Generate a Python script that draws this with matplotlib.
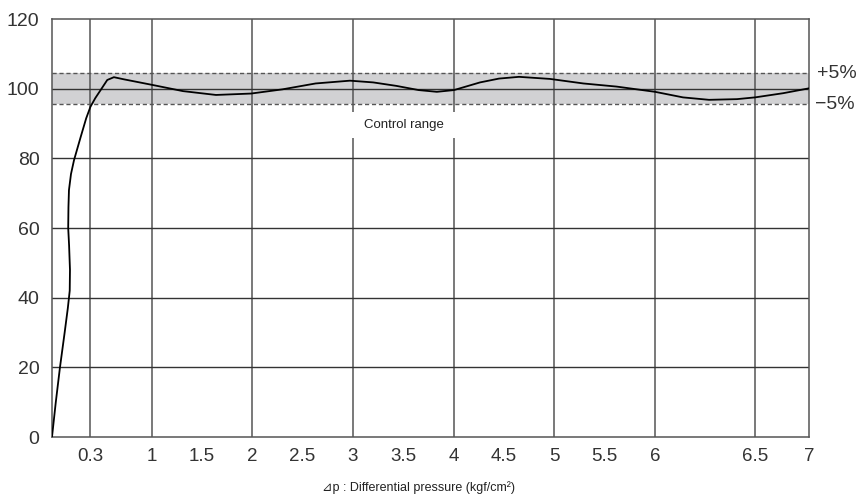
import numpy as np
import matplotlib
matplotlib.use("Agg")
import matplotlib.pyplot as plt

# x axis is not linear: tick value -> position along the axis
scale_vals = [0, 0.3, 1, 2, 3, 4, 5, 6, 6.5, 7]
scale_pos = [0, 38, 100, 200, 301, 402, 502, 603, 703, 757]

tick_vals = [0.3, 1, 1.5, 2, 2.5, 3, 3.5, 4, 4.5, 5, 5.5, 6, 6.5, 7]
tick_labels = ["0.3", "1", "1.5", "2", "2.5", "3", "3.5", "4", "4.5", "5", "5.5", "6", "6.5", "7"]
vgrid_vals = [0.3, 1, 2, 3, 4, 5, 6, 6.5]
hgrid_vals = [20, 40, 60, 80, 100]
y_ticks = [0, 20, 40, 60, 80, 100, 120]

# flow curve
dp = [0, 0.03, 0.063, 0.1, 0.125, 0.14, 0.142, 0.135, 0.128, 0.13, 0.134, 0.15,
      0.174, 0.227, 0.27, 0.305, 0.36, 0.42, 0.495, 0.57, 0.68, 0.8, 1.0, 1.31,
      1.64, 1.99, 2.3, 2.63, 2.97, 3.2, 3.43, 3.65, 3.83, 4.0, 4.26, 4.45, 4.65,
      4.96, 5.29, 5.62, 6.0, 6.14, 6.27, 6.41, 6.5, 6.76, 7.0]
flow = [0, 10, 20, 30, 37, 42, 48, 55, 60, 66, 70.9, 75.5,
        79.5, 86.2, 91.5, 94.8, 97.3, 99.6, 102.5, 103.3, 102.7, 102.1, 101.1, 99.3,
        98.2, 98.6, 99.8, 101.5, 102.3, 101.8, 100.8, 99.6, 99.1, 99.6, 101.8, 102.9, 103.4,
        102.8, 101.5, 100.6, 99.1, 97.5, 96.8, 97.0, 97.5, 98.7, 100.1]

band_lo, band_hi = 95.5, 104.5


def fwd(x):
    return np.interp(x, scale_vals, scale_pos)


def inv(p):
    return np.interp(p, scale_pos, scale_vals)


plt.rcParams['font.family'] = ['Liberation Sans', 'DejaVu Sans']

fig = plt.figure(figsize=(8.65, 4.99), dpi=100)
ax = fig.add_axes([0.0601, 0.1242, 0.8752, 0.8377])
ax.set_xscale('function', functions=(fwd, inv))
ax.set_xlim(0, 7)
ax.set_ylim(0, 120)

# control band
ax.axhspan(band_lo, band_hi, color='#d1d1d3', lw=0, zorder=0.5)
for yb in (band_lo, band_hi):
    ax.axhline(yb, color='#555555', lw=1.0, ls=(0, (3, 2)), zorder=1.2)

# grid
for xv in vgrid_vals:
    ax.axvline(xv, color='#555555', lw=1.1, zorder=1)
for yv in hgrid_vals:
    ax.axhline(yv, color='#333333', lw=1.0, zorder=1)

# gap in grid behind the label
ax.fill_between([2.97, 4.03], 85.8, 93.3, color='white', lw=0, zorder=1.5)
ax.text(3.5, 89.6, "Control range", ha='center', va='center', fontsize=9.5,
        color='#222222', zorder=3)

ax.plot(dp, flow, color='black', lw=1.3, zorder=4)

ax.set_xticks(tick_vals)
ax.set_xticklabels(tick_labels)
ax.set_yticks(y_ticks)
ax.tick_params(length=0, labelsize=14, colors='#333333')
ax.tick_params(axis='x', pad=8, labelsize=13.5)
ax.tick_params(axis='y', pad=9)
for s in ax.spines.values():
    s.set_color('#555555')
    s.set_linewidth(1.1)

ax.text(1.0106, band_hi, "+5%", transform=ax.get_yaxis_transform(),
        ha='left', va='center', fontsize=14, color='#333333')
ax.text(1.0080, band_lo, "\u22125%", transform=ax.get_yaxis_transform(),
        ha='left', va='center', fontsize=14, color='#333333')

fig.text(419 / 865, 1 - 488 / 499, "\u22bfp : Differential pressure (kgf/cm\u00b2)",
         ha='center', va='center', fontsize=9, color='#222222')

fig.savefig("out.png", dpi=100)
